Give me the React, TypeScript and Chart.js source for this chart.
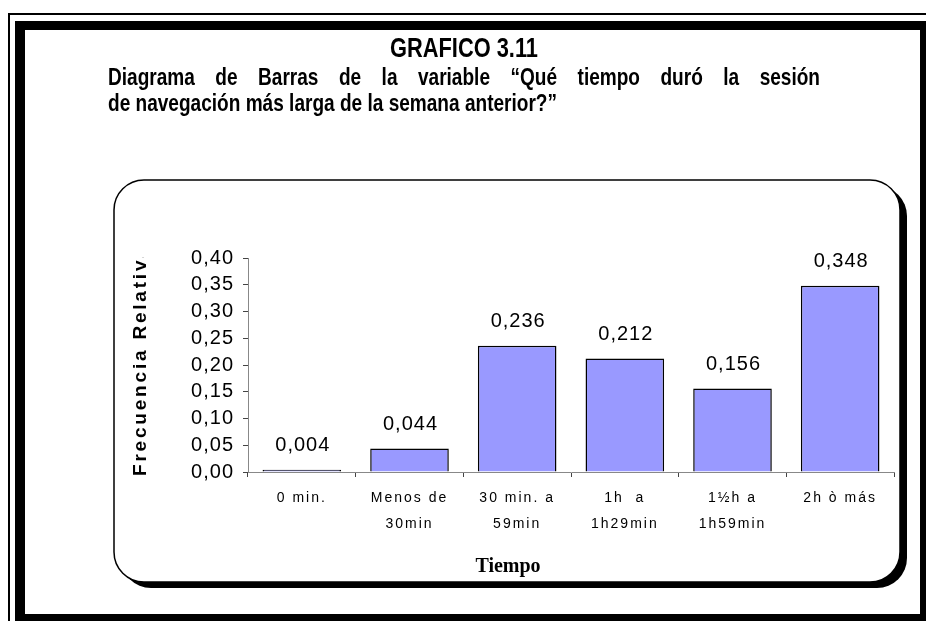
import React, { useEffect, useRef } from 'react';
import { Chart, registerables } from 'chart.js';

Chart.register(...registerables);

const categories: string[][] = [
  ['0 min.'],
  ['Menos de', '30min'],
  ['30 min. a', '59min'],
  ['1h  a', '1h29min'],
  ['1½h a', '1h59min'],
  ['2h ò más'],
];
const values: number[] = [0.004, 0.044, 0.236, 0.212, 0.156, 0.348];
const yMin = 0;
const yMax = 0.4;
const yStep = 0.05;
const chartTitle = 'GRAFICO 3.11';
const subtitleLines: string[] = [
  'Diagrama de Barras de la variable “Qué tiempo duró la sesión',
  'de navegación más larga de la semana anterior?”',
];
const yTitle = 'Frecuencia Relativa';
const xTitle = 'Tiempo';

const SANS = '"Liberation Sans", Arial, sans-serif';
const SERIF = '"Liberation Serif", "Times New Roman", serif';

function fmt(v: number, d: number) {
  return v.toFixed(d).replace('.', ',');
}

function fittedText(ctx: CanvasRenderingContext2D, text: string, x: number, y: number, w: number, font: string) {
  ctx.save();
  ctx.font = font;
  ctx.textAlign = 'left';
  ctx.textBaseline = 'alphabetic';
  const m = ctx.measureText(text).width;
  ctx.translate(x, y);
  ctx.scale(w / m, 1);
  ctx.fillStyle = '#000';
  ctx.fillText(text, 0, 0);
  ctx.restore();
  return w / m;
}

function justifiedText(ctx: CanvasRenderingContext2D, text: string, x: number, y: number, w: number, font: string, sx: number) {
  ctx.save();
  ctx.font = font;
  ctx.textAlign = 'left';
  ctx.textBaseline = 'alphabetic';
  ctx.fillStyle = '#000';
  const words = text.split(' ');
  const widths = words.map((t) => ctx.measureText(t).width * sx);
  const total = widths.reduce((a, b) => a + b, 0);
  const gap = (w - total) / (words.length - 1);
  let cx = x;
  words.forEach((t, i) => {
    ctx.save();
    ctx.translate(cx, y);
    ctx.scale(sx, 1);
    ctx.fillText(t, 0, 0);
    ctx.restore();
    cx += widths[i] + gap;
  });
  ctx.restore();
}

function roundRectPath(ctx: CanvasRenderingContext2D, x: number, y: number, w: number, h: number, r: number) {
  ctx.beginPath();
  ctx.moveTo(x + r, y);
  ctx.lineTo(x + w - r, y);
  ctx.arcTo(x + w, y, x + w, y + r, r);
  ctx.lineTo(x + w, y + h - r);
  ctx.arcTo(x + w, y + h, x + w - r, y + h, r);
  ctx.lineTo(x + r, y + h);
  ctx.arcTo(x, y + h, x, y + h - r, r);
  ctx.lineTo(x, y + r);
  ctx.arcTo(x, y, x + r, y, r);
  ctx.closePath();
}

function wrapLabels(scale: any, spacing: string) {
  if (!scale || scale.__wrapped) return;
  const orig = scale.drawLabels;
  scale.drawLabels = function (area: any) {
    const ctx = this.ctx;
    const prev = ctx.letterSpacing;
    ctx.letterSpacing = spacing;
    orig.call(this, area);
    ctx.letterSpacing = prev;
  };
  scale.__wrapped = true;
}

const decorPlugin = {
  id: 'decor',
  afterLayout(chart: any) {
    wrapLabels(chart.scales.x, '2px');
    wrapLabels(chart.scales.y, '1px');
  },
  beforeDraw(chart: any) {
    const ctx: CanvasRenderingContext2D = chart.ctx;
    const W = chart.width;
    const H = chart.height;
    ctx.save();
    ctx.fillStyle = '#fff';
    ctx.fillRect(0, 0, W, H);
    // outer double frame
    ctx.fillStyle = '#000';
    ctx.fillRect(8, 13, W - 8, 2);
    ctx.fillRect(8, 13, 2, H - 13);
    ctx.fillRect(15, 21, W - 15, 9);
    ctx.fillRect(15, 21, 10, H - 21);
    ctx.fillRect(920, 21, W - 920, H - 21);
    ctx.fillRect(15, 614, W - 15, H - 614);
    // chart box with shadow
    roundRectPath(ctx, 121, 186, 786, 402, 30);
    ctx.fillStyle = '#000';
    ctx.fill();
    roundRectPath(ctx, 114, 180, 786, 402, 30);
    ctx.fillStyle = '#fff';
    ctx.fill();
    ctx.lineWidth = 1.5;
    ctx.strokeStyle = '#000';
    ctx.stroke();
    // titles
    fittedText(ctx, chartTitle, 390, 57, 148, 'bold 27px ' + SANS);
    const subFont = 'bold 24px ' + SANS;
    const sx = fittedText(ctx, subtitleLines[1], 108, 111, 449, subFont);
    justifiedText(ctx, subtitleLines[0], 108, 85, 712, subFont, sx);
    ctx.restore();
  },
  afterDatasetsDraw(chart: any) {
    const ctx: CanvasRenderingContext2D = chart.ctx;
    const meta = chart.getDatasetMeta(0);
    ctx.save();
    (ctx as any).letterSpacing = '1px';
    ctx.font = '20px ' + SANS;
    ctx.fillStyle = '#000';
    ctx.textAlign = 'center';
    ctx.textBaseline = 'bottom';
    meta.data.forEach((el: any, i: number) => {
      ctx.fillText(fmt(values[i], 3), el.x + 1, el.y - 14);
    });
    ctx.restore();
  },
  afterDraw(chart: any) {
    const ctx: CanvasRenderingContext2D = chart.ctx;
    ctx.save();
    // y title, clipped at top
    ctx.beginPath();
    ctx.rect(0, 257, chart.width, chart.height - 257);
    ctx.clip();
    ctx.translate(141, 476);
    ctx.rotate(-Math.PI / 2);
    (ctx as any).letterSpacing = '2.8px';
    ctx.font = 'bold 19px ' + SANS;
    ctx.fillStyle = '#000';
    ctx.textAlign = 'left';
    ctx.textBaseline = 'middle';
    ctx.fillText(yTitle, 0, 0);
    ctx.restore();
    ctx.save();
    (ctx as any).letterSpacing = '0px';
    ctx.font = 'bold 20px ' + SERIF;
    ctx.fillStyle = '#000';
    ctx.textAlign = 'center';
    ctx.textBaseline = 'middle';
    ctx.fillText(xTitle, 508, 567);
    ctx.restore();
  },
};

export default function App() {
  const ref = useRef<HTMLCanvasElement | null>(null);
  useEffect(() => {
    if (!ref.current) return;
    const chart = new Chart(ref.current, {
      type: 'bar',
      data: {
        labels: categories as any,
        datasets: [
          {
            data: values,
            backgroundColor: '#9999FF',
            borderColor: '#000',
            borderWidth: 1.5,
            barPercentage: 0.73,
            categoryPercentage: 1.0,
          },
        ],
      },
      options: {
        responsive: false,
        animation: false,
        devicePixelRatio: 1,
        layout: { padding: { left: 188, top: 258, right: 32, bottom: 69 } },
        plugins: {
          legend: { display: false },
          tooltip: { enabled: false },
          title: { display: false },
        },
        scales: {
          x: {
            offset: true,
            grid: { display: true, drawOnChartArea: false, drawTicks: true, tickLength: 5, color: '#444', offset: true },
            border: { display: true, color: '#888', width: 1 },
            ticks: {
              color: '#000',
              font: { family: SANS, size: 14, lineHeight: 1.8 },
              padding: 9,
              maxRotation: 0,
              autoSkip: false,
            },
            afterFit: (s: any) => {
              s.height = 80;
            },
          },
          y: {
            min: yMin,
            max: yMax,
            grid: { display: true, drawOnChartArea: false, drawTicks: true, tickLength: 5, color: '#444' },
            border: { display: true, color: '#888', width: 1 },
            ticks: {
              stepSize: yStep,
              autoSkip: false,
              color: '#000',
              font: { family: SANS, size: 20, lineHeight: 1.0 },
              padding: 9,
              callback: (v: any) => fmt(Number(v), 2),
            },
            afterFit: (s: any) => {
              s.width = 60;
            },
          },
        },
      },
      plugins: [decorPlugin],
    });
    return () => chart.destroy();
  }, []);
  return (
    <div style={{ position: 'absolute', left: 0, top: 0, width: 926, height: 621 }}>
      <canvas ref={ref} width={926} height={621} style={{ width: 926, height: 621, display: 'block' }} />
    </div>
  );
}
